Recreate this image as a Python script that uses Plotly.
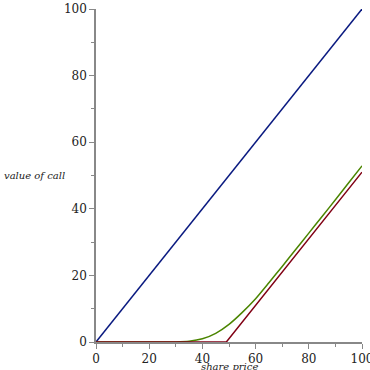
import plotly.graph_objects as go

# Data
stock_x = [0, 100]
stock_y = [0, 100]

payoff_x = [0, 49, 100]
payoff_y = [0, 0, 51]

call_x = [0, 20, 25, 30, 35, 40, 45, 50, 55, 60, 65, 70, 75, 80, 85, 90, 95, 100]
call_y = [0, 0, 0.01, 0.03, 0.22, 0.95, 2.6, 5.3, 8.9, 13.0, 17.8, 22.7, 27.7, 32.7, 37.7, 42.7, 47.8, 52.9]

x_ticks = [0, 20, 40, 60, 80, 100]
y_ticks = [0, 20, 40, 60, 80, 100]

fig = go.Figure()
fig.add_trace(go.Scatter(x=stock_x, y=stock_y, mode="lines",
                         line=dict(color="#0A1A80", width=1.5), showlegend=False))
fig.add_trace(go.Scatter(x=call_x, y=call_y, mode="lines", line_shape="spline",
                         line=dict(color="#4B8500", width=1.5, smoothing=0.6), showlegend=False))
fig.add_trace(go.Scatter(x=payoff_x, y=payoff_y, mode="lines",
                         line=dict(color="#800014", width=1.5), showlegend=False))

axis_common = dict(
    showgrid=False, zeroline=False, showline=True, linecolor="#888888", linewidth=1.5,
    ticks="outside", ticklen=5, tickcolor="#888888", tickwidth=1, automargin=False,
    ticklabeloverflow="allow",
    tickfont=dict(family="DejaVu Serif", size=12, color="#222222"),
    minor=dict(ticks="outside", ticklen=3, tickcolor="#888888", dtick=10, showgrid=False),
)

fig.update_layout(
    width=370, height=370,
    margin=dict(l=96, r=8, t=9, b=28),
    paper_bgcolor="white", plot_bgcolor="white",
    xaxis=dict(range=[0, 100], tickvals=x_ticks, **axis_common),
    yaxis=dict(range=[0, 100], tickvals=y_ticks, **axis_common),
    annotations=[
        dict(text="value of call", xref="paper", yref="paper", x=0, y=0.5,
             xanchor="left", yanchor="middle", showarrow=False,
             font=dict(family="DejaVu Serif", size=10, color="#222222", style="italic"),
             xshift=-94),
        dict(text="share price", xref="x", yref="paper", x=50, y=0,
             xanchor="center", yanchor="top", showarrow=False, yshift=-17,
             font=dict(family="DejaVu Serif", size=10, color="#222222", style="italic")),
    ],
)

fig.write_html("out.html", config={"displayModeBar": False},
               post_script="document.body.style.margin='0';document.body.style.overflow='hidden';")
